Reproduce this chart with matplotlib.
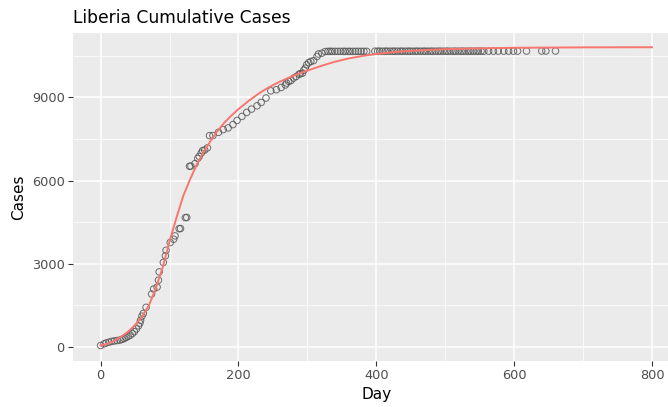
"""Liberia cumulative Ebola cases with fitted growth curve."""

import matplotlib.pyplot as plt
from matplotlib.ticker import MultipleLocator

# observed cumulative cases by day
days = [
    0, 5, 8, 12, 16, 20, 24, 28, 31, 34, 37, 40, 43, 46, 49, 52, 55, 57, 58, 60,
    62, 66, 74, 77, 82, 84, 85, 91, 94, 95, 101, 106, 108, 114, 116, 123, 125,
    129, 131, 137, 141, 143, 146, 148, 151, 155, 158, 163, 171, 178, 185, 192,
    198, 205, 212, 219, 227, 233, 240, 247, 255, 262, 268, 270, 273, 276, 280,
    284, 288, 290, 293, 295, 297, 299, 302, 305, 309, 314, 316, 321, 326,
    330, 333, 336, 340, 344, 348, 352, 355, 359, 362, 366, 370, 374, 378, 382,
    386,
    398, 402, 405, 409, 413, 416, 420, 424, 427, 431, 435, 438, 442, 446, 449,
    453, 457, 460, 464, 468, 471, 475, 479, 482, 486, 490, 493, 497, 501, 504,
    508, 512, 515, 519, 523, 526, 530, 534, 537, 541, 545, 548, 552, 556,
    563, 570, 577, 585, 592, 599, 605, 618, 640, 646, 660,
]
cases = [
    40, 100, 130, 160, 190, 205, 220, 235, 260, 290, 330, 370, 410, 470, 540,
    640, 750, 850, 950, 1100, 1200, 1420, 1900, 2080, 2150, 2400, 2700, 3040,
    3280, 3480, 3760, 3880, 4000, 4260, 4265, 4660, 4665,
    6515, 6520, 6610, 6800, 6870, 6990, 7080, 7100, 7180, 7620, 7625, 7740,
    7840, 7900, 8020, 8170, 8315, 8460, 8580, 8700, 8820, 8980, 9240, 9280,
    9360, 9450, 9520, 9580, 9610, 9700, 9760, 9840, 9860, 9880, 9990, 10060,
    10180, 10260, 10300, 10330, 10480, 10570, 10600, 10660,
    10666, 10666, 10666, 10666, 10666, 10666, 10666, 10666, 10666, 10666,
    10666, 10666, 10666, 10666, 10666, 10666,
    10672, 10672, 10672, 10672, 10672, 10672, 10672, 10672, 10672, 10672,
    10672, 10672, 10672, 10672, 10672, 10672, 10672, 10672, 10672, 10672,
    10672, 10672, 10672, 10672, 10672, 10672, 10672, 10672, 10672, 10672,
    10672, 10672, 10672, 10672, 10672, 10672, 10672, 10672, 10672, 10672,
    10672, 10672, 10672, 10672,
    10675, 10675, 10675, 10675, 10675, 10675, 10675, 10678, 10678, 10678,
    10678,
]

# fitted curve
fit_days = [
    0, 10, 20, 30, 40, 50, 60, 70, 80, 90, 100, 110, 120, 130, 140, 150, 160,
    170, 180, 190, 200, 215, 230, 245, 260, 280, 300, 320, 340, 360, 380, 400,
    430, 460, 500, 550, 600, 700, 800,
]
fit_cases = [
    40, 100, 210, 360, 540, 780, 1080, 1480, 2100, 2850, 3800, 4650, 5450,
    6050, 6600, 7050, 7450, 7800, 8100, 8350, 8580, 8880, 9150, 9380, 9570,
    9790, 9970, 10140, 10290, 10410, 10500, 10570, 10650, 10700, 10745, 10775,
    10795, 10810, 10815,
]

fig = plt.figure(figsize=(6.68, 4.07), dpi=100)
ax = fig.add_axes([0.1093, 0.113, 0.908, 0.806])
ax.set_facecolor("#EBEBEB")
for side in ax.spines.values():
    side.set_visible(False)

ax.scatter(days, cases, s=22, facecolors="none", edgecolors="#555555",
           linewidths=0.7, alpha=0.85, zorder=3)
ax.plot(fit_days, fit_cases, color="#F8766D", linewidth=1.4, zorder=4)

ax.set_xlim(-40, 840)
ax.set_ylim(-520, 11330)
ax.xaxis.set_major_locator(MultipleLocator(200))
ax.xaxis.set_minor_locator(MultipleLocator(100))
ax.yaxis.set_major_locator(MultipleLocator(3000))
ax.yaxis.set_minor_locator(MultipleLocator(1500))

ax.grid(which="major", color="white", linewidth=1.1)
ax.grid(which="minor", color="white", linewidth=0.55)
ax.set_axisbelow(True)
ax.tick_params(which="major", length=3.5, width=0.8, color="#333333",
               labelcolor="#4D4D4D", labelsize=9.3, pad=2.5)
ax.tick_params(which="minor", length=0)

ax.set_xlabel("Day", fontsize=11, labelpad=3)
ax.set_ylabel("Cases", fontsize=11, labelpad=4)
ax.set_title("Liberia Cumulative Cases", fontsize=12.3, loc="left", pad=7)

fig.savefig("out.png", dpi=100)
plt.close(fig)
